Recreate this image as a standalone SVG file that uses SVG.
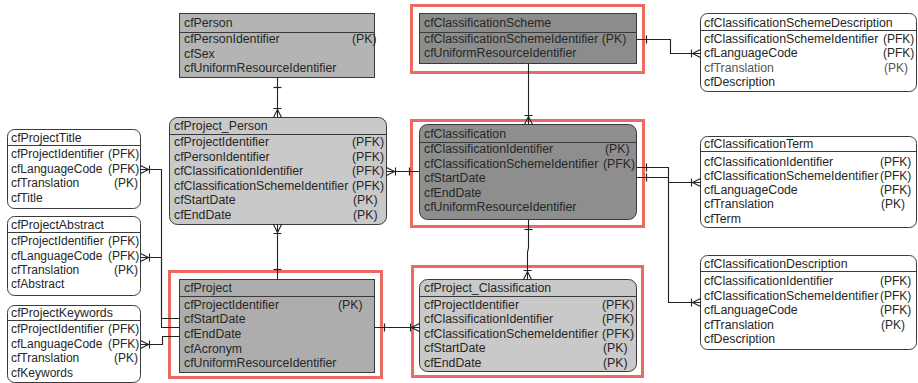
<svg xmlns="http://www.w3.org/2000/svg" width="918" height="383" viewBox="0 0 918 383">
<style>
.t{font-family:"Liberation Sans",Arial,sans-serif;font-size:12.3px;fill:#262626}
.k{font-size:12px}
.g{fill:#555}
.box{stroke:#3a3a3a;stroke-width:1}
.dv{stroke:#3a3a3a;stroke-width:1}
.hl{fill:none;stroke:#ec6a62;stroke-width:3}
.c{fill:none;stroke:#222;stroke-width:1.1}
.one{marker-start:url(#one)}
.many{marker-end:url(#many)}
.manyS{marker-start:url(#many)}
.oneE{marker-end:url(#one)}
</style>
<defs>
<marker id="one" markerUnits="userSpaceOnUse" viewBox="-13 -6 14 12" refX="0" refY="0" markerWidth="14" markerHeight="12" orient="auto-start-reverse"><path d="M-10,-4V4" stroke="#222" stroke-width="1.2" fill="none"/></marker>
<marker id="many" markerUnits="userSpaceOnUse" viewBox="-13 -6 14 12" refX="0" refY="0" markerWidth="14" markerHeight="12" orient="auto-start-reverse"><path d="M-9,-4V4M-8,0L0,-4M-8,0L0,4" stroke="#222" stroke-width="1.1" fill="none"/></marker>
</defs>
<rect width="918" height="383" fill="#fff"/>

<g id="cfPerson">
<rect class="box" x="179.5" y="13.5" width="195" height="64" fill="#b4b4b4"/>
<line class="dv" x1="179.5" y1="32.5" x2="374.5" y2="32.5"/>
<text class="t" x="184" y="27">cfPerson</text>
<text class="t" x="184" y="43">cfPersonIdentifier</text><text class="t" x="352" y="43">(PK)</text>
<text class="t" x="184" y="58">cfSex</text>
<text class="t" x="184" y="72">cfUniformResourceIdentifier</text>
</g>

<g id="cfClassificationScheme">
<rect class="hl" x="411.5" y="5.5" width="232" height="67"/>
<rect class="box" x="419.5" y="13.5" width="217" height="50" fill="#8c8c8c"/>
<line class="dv" x1="419.5" y1="32.5" x2="636.5" y2="32.5"/>
<text class="t" x="424" y="27">cfClassificationScheme</text>
<text class="t" x="424" y="43">cfClassificationSchemeIdentifier (PK)</text>
<text class="t" x="424" y="57">cfUniformResourceIdentifier</text>
</g>

<g id="cfClassificationSchemeDescription">
<rect class="box" x="700.5" y="13.5" width="216" height="78" rx="7" fill="#fff"/>
<line class="dv" x1="700.5" y1="30.5" x2="916.5" y2="30.5"/>
<text class="t" x="704" y="27">cfClassificationSchemeDescription</text>
<text class="t" x="704" y="43">cfClassificationSchemeIdentifier</text><text class="t k" x="883" y="43">(PFK)</text>
<text class="t" x="704" y="57">cfLanguageCode</text><text class="t k" x="883" y="57">(PFK)</text>
<text class="t g" x="704" y="72">cfTranslation</text><text class="t g k" x="884" y="72">(PK)</text>
<text class="t" x="704" y="86">cfDescription</text>
</g>

<g id="cfProject_Person">
<rect class="box" x="169.5" y="117.5" width="217" height="107" rx="8" fill="#c9c9c9"/>
<line class="dv" x1="169.5" y1="134.5" x2="386.5" y2="134.5"/>
<text class="t" x="174" y="130">cfProject_Person</text>
<text class="t" x="174" y="146">cfProjectIdentifier</text><text class="t" x="352" y="146">(PFK)</text>
<text class="t" x="174" y="161">cfPersonIdentifier</text><text class="t" x="352" y="161">(PFK)</text>
<text class="t" x="174" y="175">cfClassificationIdentifier</text><text class="t" x="352" y="175">(PFK)</text>
<text class="t" x="174" y="190">cfClassificationSchemeIdentifier</text><text class="t" x="352" y="190">(PFK)</text>
<text class="t" x="174" y="204">cfStartDate</text><text class="t" x="353" y="204">(PK)</text>
<text class="t" x="174" y="219">cfEndDate</text><text class="t" x="353" y="219">(PK)</text>
</g>

<g id="cfClassification">
<rect class="hl" x="411.5" y="120.5" width="232" height="106"/>
<rect class="box" x="419.5" y="124.5" width="217" height="95" rx="8" fill="#8e8e8e"/>
<line class="dv" x1="419.5" y1="142.5" x2="636.5" y2="142.5"/>
<text class="t" x="424" y="138">cfClassification</text>
<text class="t" x="424" y="153">cfClassificationIdentifier</text><text class="t" x="605" y="153">(PK)</text>
<text class="t" x="424" y="168">cfClassificationSchemeIdentifier</text><text class="t" x="603" y="168">(PFK)</text>
<text class="t" x="424" y="182">cfStartDate</text>
<text class="t" x="424" y="197">cfEndDate</text>
<text class="t" x="424" y="211">cfUniformResourceIdentifier</text>
</g>

<g id="cfClassificationTerm">
<rect class="box" x="700.5" y="136.5" width="216" height="91" rx="7" fill="#fff"/>
<line class="dv" x1="700.5" y1="151.5" x2="916.5" y2="151.5"/>
<text class="t" x="704" y="148">cfClassificationTerm</text>
<text class="t" x="704" y="166">cfClassificationIdentifier</text><text class="t k" x="880" y="166">(PFK)</text>
<text class="t" x="704" y="180">cfClassificationSchemeIdentifier</text><text class="t k" x="880" y="180">(PFK)</text>
<text class="t" x="704" y="194">cfLanguageCode</text><text class="t k" x="880" y="194">(PFK)</text>
<text class="t" x="704" y="208">cfTranslation</text><text class="t k" x="881" y="208">(PK)</text>
<text class="t" x="704" y="223">cfTerm</text>
</g>

<g id="cfClassificationDescription">
<rect class="box" x="700.5" y="255.5" width="216" height="94" rx="7" fill="#fff"/>
<line class="dv" x1="700.5" y1="271.5" x2="916.5" y2="271.5"/>
<text class="t" x="704" y="268">cfClassificationDescription</text>
<text class="t" x="704" y="285">cfClassificationIdentifier</text><text class="t k" x="880" y="285">(PFK)</text>
<text class="t" x="704" y="300">cfClassificationSchemeIdentifier</text><text class="t k" x="880" y="300">(PFK)</text>
<text class="t" x="704" y="314">cfLanguageCode</text><text class="t k" x="880" y="314">(PFK)</text>
<text class="t" x="704" y="329">cfTranslation</text><text class="t k" x="881" y="329">(PK)</text>
<text class="t" x="704" y="343">cfDescription</text>
</g>

<g id="cfProjectTitle">
<rect class="box" x="7.5" y="129.5" width="133" height="79" rx="7" fill="#fff"/>
<line class="dv" x1="7.5" y1="145.5" x2="140.5" y2="145.5"/>
<text class="t" x="11" y="142">cfProjectTitle</text>
<text class="t k" x="11" y="158">cfProjectIdentifier</text><text class="t k" x="108" y="158">(PFK)</text>
<text class="t k" x="11" y="173">cfLanguageCode</text><text class="t k" x="108" y="173">(PFK)</text>
<text class="t k" x="11" y="187">cfTranslation</text><text class="t k" x="114" y="187">(PK)</text>
<text class="t k" x="11" y="202">cfTitle</text>
</g>

<g id="cfProjectAbstract">
<rect class="box" x="7.5" y="216.5" width="133" height="79" rx="7" fill="#fff"/>
<line class="dv" x1="7.5" y1="232.5" x2="140.5" y2="232.5"/>
<text class="t" x="11" y="229">cfProjectAbstract</text>
<text class="t k" x="11" y="245">cfProjectIdentifier</text><text class="t k" x="108" y="245">(PFK)</text>
<text class="t k" x="11" y="260">cfLanguageCode</text><text class="t k" x="108" y="260">(PFK)</text>
<text class="t k" x="11" y="274">cfTranslation</text><text class="t k" x="114" y="274">(PK)</text>
<text class="t k" x="11" y="288">cfAbstract</text>
</g>

<g id="cfProjectKeywords">
<rect class="box" x="7.5" y="305.5" width="133" height="77" rx="7" fill="#fff"/>
<line class="dv" x1="7.5" y1="320.5" x2="140.5" y2="320.5"/>
<text class="t" x="11" y="317">cfProjectKeywords</text>
<text class="t k" x="11" y="333">cfProjectIdentifier</text><text class="t k" x="108" y="333">(PFK)</text>
<text class="t k" x="11" y="348">cfLanguageCode</text><text class="t k" x="108" y="348">(PFK)</text>
<text class="t k" x="11" y="362">cfTranslation</text><text class="t k" x="114" y="362">(PK)</text>
<text class="t k" x="11" y="377">cfKeywords</text>
</g>

<g id="cfProject">
<rect class="hl" x="169.5" y="271.5" width="212" height="106"/>
<rect class="box" x="179.5" y="279.5" width="195" height="93" fill="#adadad"/>
<line class="dv" x1="179.5" y1="296.5" x2="374.5" y2="296.5"/>
<text class="t" x="184" y="292">cfProject</text>
<text class="t" x="184" y="309">cfProjectIdentifier</text><text class="t" x="338" y="309">(PK)</text>
<text class="t" x="184" y="323">cfStartDate</text>
<text class="t" x="184" y="338">cfEndDate</text>
<text class="t" x="184" y="353">cfAcronym</text>
<text class="t" x="184" y="367">cfUniformResourceIdentifier</text>
</g>

<g id="cfProject_Classification">
<rect class="hl" x="412.5" y="266.5" width="230" height="110"/>
<rect class="box" x="419.5" y="279.5" width="217" height="92" rx="8" fill="#c9c9c9"/>
<line class="dv" x1="419.5" y1="296.5" x2="636.5" y2="296.5"/>
<text class="t" x="424" y="292">cfProject_Classification</text>
<text class="t" x="424" y="309">cfProjectIdentifier</text><text class="t" x="602" y="309">(PFK)</text>
<text class="t" x="424" y="323">cfClassificationIdentifier</text><text class="t" x="602" y="323">(PFK)</text>
<text class="t" x="424" y="338">cfClassificationSchemeIdentifier</text><text class="t" x="602" y="338">(PFK)</text>
<text class="t" x="424" y="352">cfStartDate</text><text class="t" x="603" y="352">(PK)</text>
<text class="t" x="424" y="367">cfEndDate</text><text class="t" x="603" y="367">(PK)</text>
</g>

<g id="connectors">
<path class="c one many" d="M277.5,77.5V117.5"/>
<path class="c many" d="M528.5,63.5V124.5"/>
<path class="c one many" d="M636.5,39.5H670.5V53.5H700.5"/>
<path class="c one many" d="M636.5,167.5H668.5V182.5H700.5"/>
<path class="c one many" d="M636.5,177.5H668.5V302.5H700.5"/>
<path class="c one many" d="M528.5,219.5V248L527.5,252V279.5"/>
<path class="c manyS oneE" d="M386.5,171.5H419.5"/>
<path class="c manyS oneE" d="M277.5,224.5V279.5"/>
<path class="c one many" d="M374.5,327.5H419.5"/>
<path class="c many" d="M179.5,318.5H161.5V169.5H140.5"/>
<path class="c many" d="M179.5,327.5H161.5V257.5H140.5"/>
<path class="c many" d="M179.5,336.5H162.5V344.5H140.5"/>
</g>
</svg>
